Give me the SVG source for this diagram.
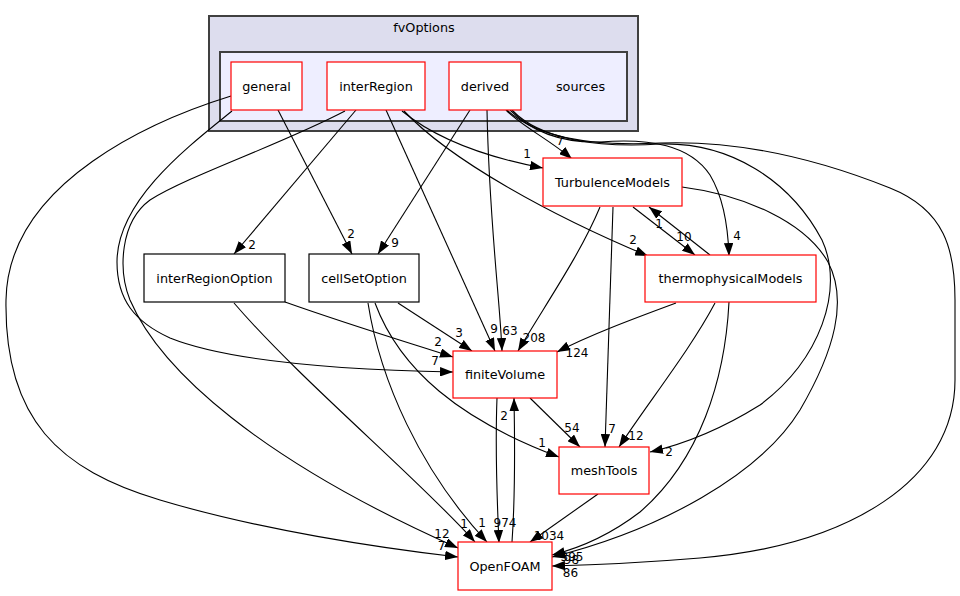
<svg xmlns="http://www.w3.org/2000/svg" width="960" height="596" viewBox="0 0 960 596">
<style>
.cl1{fill:#ddddee;stroke:#404040;stroke-width:2}
.cl2{fill:#eeeeff;stroke:#404040;stroke-width:2}
.nd rect{fill:#ffffff;stroke:#ff0000;stroke-width:1.2}
.nd.b rect{stroke:#000000}
text{font-family:"DejaVu Sans","Liberation Sans",sans-serif;fill:#000000}
.nt{font-size:12.8px;text-anchor:middle}
.lb{font-size:12px;text-anchor:middle}
.e path{fill:none;stroke:#000000;stroke-width:1.1;marker-end:url(#ah)}
</style>
<defs>
<marker id="ah" viewBox="0 0 13 9.5" refX="13" refY="4.75" markerWidth="13" markerHeight="9.5" markerUnits="userSpaceOnUse" orient="auto">
<path d="M0,0 L13,4.75 L0,9.5 z" fill="#000000"/>
</marker>
</defs>
<rect width="960" height="596" fill="#ffffff"/>
<g id="cluster_fvOptions">
<rect class="cl1" x="209" y="16" width="429" height="115"/>
<text class="nt" x="424" y="32">fvOptions</text>
</g>
<g id="cluster_sources">
<rect class="cl2" x="220" y="52" width="407" height="69"/>
<text class="nt" x="580.5" y="91">sources</text>
</g>
<g id="labels">
<text class="lb" x="441.5" y="550">7</text>
<text class="lb" x="435" y="365">7</text>
<text class="lb" x="351" y="238">2</text>
<text class="lb" x="442" y="538">12</text>
<text class="lb" x="252" y="249">2</text>
<text class="lb" x="494" y="333">9</text>
<text class="lb" x="527" y="158">1</text>
<text class="lb" x="633" y="244">2</text>
<text class="lb" x="395" y="247">9</text>
<text class="lb" x="510" y="335">63</text>
<text class="lb" x="560" y="145">7</text>
<text class="lb" x="737" y="240">4</text>
<text class="lb" x="669" y="456">2</text>
<text class="lb" x="570.5" y="577">86</text>
<text class="lb" x="534" y="342">208</text>
<text class="lb" x="612" y="433">7</text>
<text class="lb" x="684" y="241">10</text>
<text class="lb" x="659" y="228">1</text>
<text class="lb" x="577" y="357">124</text>
<text class="lb" x="636" y="440">12</text>
<text class="lb" x="572" y="561">395</text>
<text class="lb" x="571.5" y="564">98</text>
<text class="lb" x="438" y="346">2</text>
<text class="lb" x="464" y="528">1</text>
<text class="lb" x="459" y="337">3</text>
<text class="lb" x="482" y="527">1</text>
<text class="lb" x="542" y="447">1</text>
<text class="lb" x="505" y="527">974</text>
<text class="lb" x="504" y="420">2</text>
<text class="lb" x="572" y="432">54</text>
<text class="lb" x="549" y="540">1034</text>
</g>
<g id="connectors" class="e">
<path d="M231,96 C160,118 8,180 6,300 C4,420 60,470 160,500 C260,530 380,548 458,557"/>
<path d="M232,111 C190,145 117,200 117,262 C117,300 135,322 170,338 C230,362 350,370 453,372"/>
<path d="M278,110 L352,254"/>
<path d="M345,111 C280,145 190,175 150,200 C120,222 118,270 130,300 C160,370 260,460 458,548"/>
<path d="M356,110 L234,254"/>
<path d="M386,110 L495,351"/>
<path d="M402,111 C435,138 485,157 543,168"/>
<path d="M404,111 C450,160 550,215 648,256"/>
<path d="M470,110 L378,254"/>
<path d="M487,110 C489,220 500,300 502,351"/>
<path d="M506,110 C520,125 550,140 572,159"/>
<path d="M510,110 C530,130 560,143 600,142 C650,138 690,145 710,175 C722,195 728,225 729,256"/>
<path d="M512,110 C540,140 600,148 660,144 C730,142 790,180 822,240 C845,290 820,360 760,405 C720,430 680,445 650,452"/>
<path d="M507,110 C540,140 600,146 660,143 C740,140 820,160 890,188 C945,210 955,250 955,300 L955,380 C955,480 850,545 700,558 C640,563 590,565 552,566"/>
<path d="M600,207 C580,255 545,305 518,351"/>
<path d="M613,207 C610,300 607,380 605,447"/>
<path d="M633,207 L695,255"/>
<path d="M710,255 L649,207"/>
<path d="M682,187 C745,195 805,222 828,262 C848,300 835,350 800,410 C760,475 660,530 552,557"/>
<path d="M676,303 C630,320 590,335 557,352"/>
<path d="M715,303 C690,350 650,400 619,447"/>
<path d="M729,302 C725,380 700,460 640,512 C610,535 580,548 552,555"/>
<path d="M285,302 C350,325 400,340 453,357"/>
<path d="M234,303 C300,380 420,480 475,542"/>
<path d="M398,303 L472,351"/>
<path d="M368,303 C380,380 420,470 487,542"/>
<path d="M375,303 C400,370 460,420 559,457"/>
<path d="M497,398 C495,450 497,500 499,543"/>
<path d="M512,542 C515,500 515,450 514,398"/>
<path d="M530,398 L580,447"/>
<path d="M598,494 L530,542"/>
</g>
<g id="node_general" class="nd"><rect x="231" y="62" width="71" height="48"/><text class="nt" x="266.5" y="90.5">general</text></g>
<g id="node_interRegion" class="nd"><rect x="327" y="62" width="98" height="48"/><text class="nt" x="376" y="90.5">interRegion</text></g>
<g id="node_derived" class="nd"><rect x="449" y="62" width="72" height="48"/><text class="nt" x="485" y="90.5">derived</text></g>
<g id="node_TurbulenceModels" class="nd"><rect x="543" y="158" width="139" height="48"/><text class="nt" x="612.5" y="186.5">TurbulenceModels</text></g>
<g id="node_thermophysicalModels" class="nd"><rect x="645" y="255" width="171" height="47"/><text class="nt" x="730.5" y="283">thermophysicalModels</text></g>
<g id="node_interRegionOption" class="nd b"><rect x="144" y="254" width="141" height="48"/><text class="nt" x="214.5" y="282.5">interRegionOption</text></g>
<g id="node_cellSetOption" class="nd b"><rect x="309" y="254" width="110" height="48"/><text class="nt" x="364" y="282.5">cellSetOption</text></g>
<g id="node_finiteVolume" class="nd"><rect x="453" y="351" width="104" height="47"/><text class="nt" x="505" y="379">finiteVolume</text></g>
<g id="node_meshTools" class="nd"><rect x="559" y="447" width="90" height="47"/><text class="nt" x="604" y="475">meshTools</text></g>
<g id="node_OpenFOAM" class="nd"><rect x="458" y="542" width="94" height="48"/><text class="nt" x="505" y="570.5">OpenFOAM</text></g>
</svg>
